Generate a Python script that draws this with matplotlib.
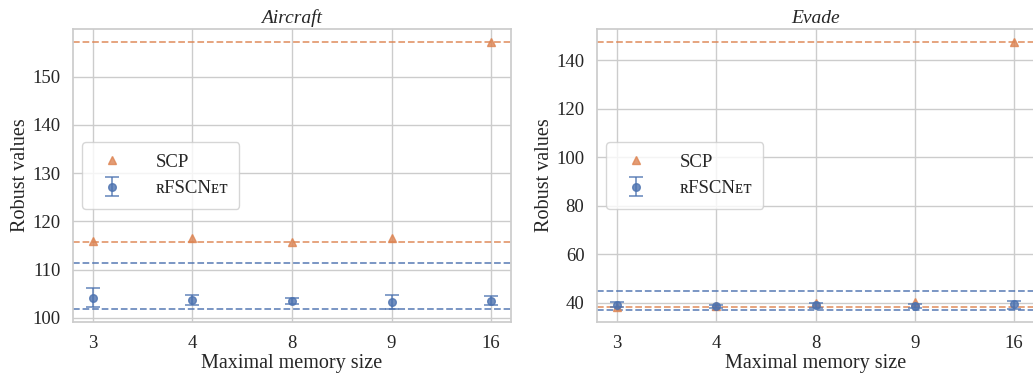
import matplotlib
matplotlib.use("Agg")
import matplotlib.pyplot as plt
import seaborn as sns
import numpy as np

sns.set_theme(style="whitegrid")
plt.rcParams['font.family'] = ['Liberation Serif', 'DejaVu Serif']

memory_sizes = ["3", "4", "8", "9", "16"]

# Aircraft
air_scp = [116.0, 116.5, 115.8, 116.6, 157.1]
air_rfsc = [104.2, 103.7, 103.4, 103.3, 103.4]
air_rfsc_lo = [102.3, 102.7, 102.8, 101.9, 102.6]
air_rfsc_hi = [106.2, 104.8, 104.1, 104.7, 104.6]
air_blue_lines = [111.3, 101.9]

# Evade
ev_scp = [38.2, 38.5, 40.1, 40.2, 147.3]
ev_rfsc = [39.2, 38.6, 39.0, 38.6, 39.5]
ev_rfsc_lo = [38.2, 38.0, 38.0, 37.8, 37.6]
ev_rfsc_hi = [40.2, 39.2, 40.0, 39.4, 40.9]
ev_blue_lines = [44.7, 37.2]

titles = ["Aircraft", "Evade"]
blue = "#4C72B0"
orange = "#DD8452"
alpha = 0.8

fig = plt.figure(figsize=(10.33, 3.75), dpi=100)
W, H = 1033, 375
ax1 = fig.add_axes([73 / W, (H - 322) / H, 438 / W, 293 / H])
ax2 = fig.add_axes([597 / W, (H - 322) / H, 437 / W, 293 / H])

datasets = [
    (ax1, air_scp, air_rfsc, air_rfsc_lo, air_rfsc_hi, air_blue_lines, titles[0]),
    (ax2, ev_scp, ev_rfsc, ev_rfsc_lo, ev_rfsc_hi, ev_blue_lines, titles[1]),
]

x = np.arange(len(memory_sizes))
for ax, scp, rf, lo, hi, bl, title in datasets:
    rf = np.array(rf)
    yerr = np.vstack([rf - np.array(lo), np.array(hi) - rf])
    ax.plot(x, scp, linestyle='none', marker='^', color=orange, markersize=6,
            alpha=alpha, label='SCP', zorder=3)
    ax.errorbar(x, rf, yerr=yerr, fmt='o', color=blue, markersize=5.5,
                capsize=5, elinewidth=1.2, capthick=1.2, alpha=alpha,
                label='ʀFSCNᴇᴛ', zorder=4)
    ax.axhline(min(scp), color=orange, linestyle='--', linewidth=1.3, alpha=alpha, zorder=2)
    ax.axhline(max(scp), color=orange, linestyle='--', linewidth=1.3, alpha=alpha, zorder=2)
    for v in bl:
        ax.axhline(v, color=blue, linestyle='--', linewidth=1.3, alpha=alpha, zorder=2)
    ax.set_xticks(x)
    ax.set_xticklabels(memory_sizes)
    ax.set_xlim(-0.2, 4.2)
    ax.set_title(title, fontsize=14, style='italic', pad=4)
    ax.set_xlabel("Maximal memory size", fontsize=14.5, labelpad=2)
    ax.set_ylabel("Robust values", fontsize=14.5, labelpad=2)
    ax.tick_params(axis='both', labelsize=13.5, pad=3)
    ax.legend(loc='center left', fontsize=13.5, frameon=True, borderpad=0.6,
              handletextpad=1.3, framealpha=0.8)

ax1.set_yticks([100, 110, 120, 130, 140, 150])
ax2.set_yticks([40, 60, 80, 100, 120, 140])

fig.savefig("out.png", dpi=100)
